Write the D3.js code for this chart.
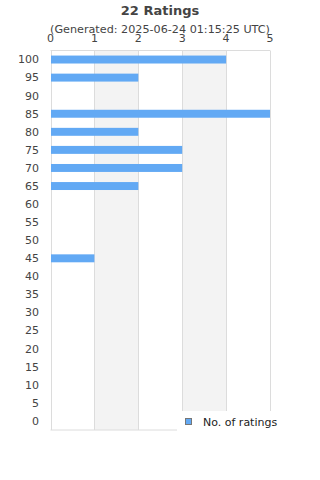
<!DOCTYPE html>
<html>
<head>
<meta charset="utf-8">
<script src="https://cdn.jsdelivr.net/npm/d3@7"></script>
<style>
  body { margin: 0; background: #fff; }
  text { font-family: "DejaVu Sans", sans-serif; }
</style>
</head>
<body>
<div id="chart"></div>
<script>
// data
var ratings = [100, 95, 90, 85, 80, 75, 70, 65, 60, 55, 50, 45, 40, 35, 30, 25, 20, 15, 10, 5, 0];
var counts  = [4, 2, 0, 5, 2, 3, 3, 2, 0, 0, 0, 1, 0, 0, 0, 0, 0, 0, 0, 0, 0];
var xTicks = [0, 1, 2, 3, 4, 5];
var title = "22 Ratings";
var subtitle = "(Generated: 2025-06-24 01:15:25 UTC)";
var seriesName = "No. of ratings";

var W = 320, H = 480;
var m = {top: 50.5, left: 50.5, right: 50, bottom: 50};

var svg = d3.select("#chart").append("svg")
    .attr("width", W)
    .attr("height", H);

var x = d3.scaleLinear().domain([0, 5]).range([m.left, W - m.right]);
var y = d3.scaleBand().domain(ratings).range([m.top, H - m.bottom]).paddingInner(0.56).paddingOuter(0.28);

// alternate bands
svg.selectAll("rect.band")
    .data(xTicks.slice(0, -1).filter(function(d) { return d % 2 == 1; }))
    .enter().append("rect")
    .attr("x", function(d) { return x(d); })
    .attr("y", m.top)
    .attr("width", function(d) { return x(d + 1) - x(d); })
    .attr("height", H - m.bottom - m.top)
    .attr("fill", "#f3f3f3");

// grid
svg.selectAll("line.grid")
    .data(xTicks)
    .enter().append("line")
    .attr("x1", function(d) { return Math.round(x(d)) + 0.5; })
    .attr("x2", function(d) { return Math.round(x(d)) + 0.5; })
    .attr("y1", m.top)
    .attr("y2", H - m.bottom)
    .attr("stroke", "#dcdcdc");

svg.append("line")
    .attr("x1", m.left).attr("x2", W - m.right)
    .attr("y1", m.top).attr("y2", m.top)
    .attr("stroke", "#dcdcdc");
svg.append("line")
    .attr("x1", m.left).attr("x2", W - m.right)
    .attr("y1", H - m.bottom).attr("y2", H - m.bottom)
    .attr("stroke", "#dcdcdc");

// bars
svg.selectAll("rect.bar")
    .data(ratings)
    .enter().append("rect")
    .attr("class", "bar")
    .attr("x", x(0) + 0.5)
    .attr("y", function(d) { return y(d); })
    .attr("width", function(d, i) { return Math.max(0, x(counts[i]) - x(0) - 0.5); })
    .attr("height", y.bandwidth())
    .attr("fill", "#62a9f4");

// y labels
svg.selectAll("text.ylab")
    .data(ratings)
    .enter().append("text")
    .attr("x", 39)
    .attr("y", function(d) { return y(d) + y.bandwidth() / 2; })
    .attr("dy", "0.35em")
    .attr("text-anchor", "end")
    .attr("font-size", 11)
    .attr("fill", "#444")
    .text(function(d) { return d; });

// x labels (top)
svg.selectAll("text.xlab")
    .data(xTicks)
    .enter().append("text")
    .attr("x", function(d) { return x(d); })
    .attr("y", 42)
    .attr("text-anchor", "middle")
    .attr("font-size", 11)
    .attr("fill", "#444")
    .text(function(d) { return d; });

// titles
svg.append("text")
    .attr("x", W / 2).attr("y", 15)
    .attr("text-anchor", "middle")
    .attr("font-size", 13)
    .attr("font-weight", "bold")
    .attr("fill", "#444")
    .text(title);
svg.append("text")
    .attr("x", W / 2).attr("y", 33)
    .attr("text-anchor", "middle")
    .attr("font-size", 11.2)
    .attr("fill", "#444")
    .text(subtitle);

// legend
var lg = svg.append("g");
lg.append("rect")
    .attr("x", 177).attr("y", 411)
    .attr("width", 143).attr("height", 30)
    .attr("fill", "#fff");
lg.append("rect")
    .attr("x", 185.5).attr("y", 418.5)
    .attr("width", 6).attr("height", 6)
    .attr("fill", "#62a9f4")
    .attr("stroke", "#777");
lg.append("text")
    .attr("x", 203).attr("y", 422)
    .attr("dy", "0.35em")
    .attr("font-size", 11)
    .attr("fill", "#222")
    .text(seriesName);
</script>
</body>
</html>
